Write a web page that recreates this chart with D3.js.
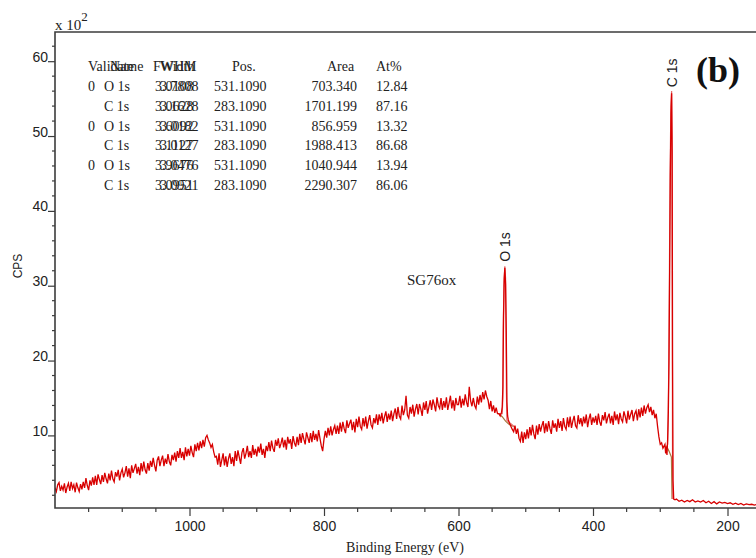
<!DOCTYPE html>
<html>
<head>
<meta charset="utf-8">
<script src="https://cdn.jsdelivr.net/npm/d3@7"></script>
<style>
body { margin: 0; background: #fff; }
svg { display: block; }
</style>
</head>
<body>
<div id="chart"></div>
<script>
// XPS survey of SG76ox, counts in units of 10^2 CPS

// 1200 eV down to 540 eV, every 2 eV
var highBE = [
	3.0, 2.5, 3.4, 3.7, 2.6, 3.2, 2.7, 3.6, 2.3, 3.1,
	3.6, 2.6, 3.8, 2.9, 3.4, 2.4, 3.7, 3.0, 2.5, 3.5,
	2.8, 3.8, 3.0, 4.3, 3.3, 2.7, 4.0, 3.3, 4.4, 3.4,
	4.6, 3.4, 4.8, 4.1, 3.5, 4.7, 3.8, 5.0, 4.2, 3.6,
	4.9, 4.0, 5.3, 4.2, 3.8, 5.1, 4.5, 5.4, 4.0, 5.0,
	5.5, 4.4, 5.0, 5.9, 4.5, 5.6, 4.3, 6.0, 5.0, 5.6,
	6.2, 4.9, 5.8, 4.7, 6.3, 5.2, 6.5, 5.4, 4.9, 6.3,
	5.3, 6.6, 5.8, 7.0, 6.0, 5.2, 6.7, 7.2, 5.9, 6.7,
	7.3, 5.9, 6.9, 6.2, 7.5, 6.5, 6.0, 7.4, 6.7, 7.7,
	6.5, 7.9, 7.0, 8.3, 7.0, 7.8, 6.7, 8.4, 7.2, 8.2,
	7.3, 8.6, 7.7, 7.1, 8.8, 7.9, 9.0, 8.0, 9.2, 8.3,
	9.4, 8.5, 9.7, 10.0, 9.4, 9.0, 8.4, 8.8, 7.8, 7.1,
	7.2, 6.1, 7.6, 5.8, 6.7, 7.6, 6.0, 7.2, 5.8, 6.9,
	7.6, 6.2, 7.1, 5.9, 7.9, 6.6, 8.0, 7.1, 6.2, 7.7,
	8.3, 6.9, 7.6, 8.6, 7.1, 7.9, 7.0, 8.7, 7.4, 8.2,
	7.2, 8.5, 7.7, 8.9, 7.4, 8.2, 7.0, 8.6, 7.9, 9.1,
	7.9, 9.3, 8.3, 7.8, 9.4, 8.6, 9.6, 8.3, 8.9, 9.7,
	8.4, 9.4, 8.1, 9.8, 8.9, 9.5, 8.2, 9.9, 9.0, 8.5,
	9.8, 8.7, 10.2, 9.0, 10.3, 9.5, 8.8, 10.4, 9.7, 9.0,
	10.3, 9.1, 10.6, 9.4, 10.2, 9.2, 10.7, 9.6, 8.6, 7.9,
	9.5, 10.6, 9.7, 11.0, 10.0, 11.2, 10.0, 10.8, 11.3, 10.2,
	11.3, 10.2, 11.7, 10.5, 11.8, 10.9, 10.3, 12.0, 11.0, 11.6,
	12.1, 10.7, 11.8, 10.4, 12.2, 11.1, 12.5, 11.2, 10.8, 12.3,
	11.2, 12.5, 10.9, 11.9, 12.7, 11.4, 11.0, 12.3, 11.6, 12.8,
	11.4, 12.8, 11.9, 13.0, 11.6, 12.5, 13.2, 11.8, 12.9, 12.1,
	13.3, 11.9, 12.9, 13.6, 12.2, 13.8, 12.6, 12.2, 14.0, 12.7,
	13.4, 15.3, 12.7, 12.3, 13.8, 12.9, 14.1, 12.5, 13.5, 14.2,
	12.8, 14.2, 13.5, 12.6, 14.4, 13.4, 14.6, 12.9, 13.8, 14.7,
	13.4, 14.8, 14.1, 13.2, 15.1, 14.0, 13.6, 15.0, 13.4, 14.6,
	13.7, 15.1, 13.4, 14.3, 15.3, 13.6, 14.7, 13.3, 15.0, 14.1,
	14.1, 15.3, 13.7, 14.9, 14.0, 15.5, 14.4, 13.8, 16.5, 14.6,
	13.9, 15.0, 14.0, 13.6, 15.2, 14.1, 15.4, 14.4, 15.8, 14.8,
	16.0, 15.2, 14.7, 13.5, 14.6, 13.2, 14.0, 13.0, 13.7, 12.9,
	12.9
];

// 516 eV down to 296 eV, every 2 eV
var midBE = [
	11.3, 10.2, 10.9, 9.6, 9.2, 10.5, 9.0, 10.4, 9.5, 10.8,
	9.6, 11.1, 10.0, 11.4, 10.2, 9.5, 11.3, 10.1, 11.5, 10.5,
	11.3, 11.9, 10.3, 11.6, 10.5, 11.9, 10.9, 10.2, 12.0, 11.0,
	11.6, 10.5, 12.2, 11.0, 11.9, 10.6, 12.3, 11.2, 10.8, 12.4,
	11.1, 12.5, 11.0, 11.9, 12.6, 11.3, 11.0, 12.7, 11.5, 12.3,
	11.2, 12.5, 11.6, 12.8, 11.1, 12.2, 12.9, 11.4, 12.4, 11.7,
	12.6, 11.4, 12.9, 11.8, 11.3, 12.7, 12.0, 13.1, 11.6, 12.4,
	12.9, 11.6, 12.6, 11.4, 13.2, 12.0, 12.8, 11.5, 13.0, 12.2,
	11.8, 13.2, 12.5, 11.6, 13.3, 12.1, 12.8, 13.4, 11.9, 12.9,
	13.3, 12.0, 13.5, 12.4, 13.7, 12.6, 14.0, 12.9, 13.7, 14.1,
	13.1, 13.8, 12.7, 13.4, 12.3, 12.9, 11.2, 9.8, 8.8, 9.0,
	8.3
];

// 276 eV down to 152 eV, every 4 eV
var lowBE = [
	1.5, 1.2, 1.35, 1.1, 1.3, 1.15, 1.4, 1.1, 1.25,
	1.1, 1.3, 1.0, 1.2, 0.9, 1.15, 0.85, 1.1, 0.95, 1.05,
	0.9, 1.0, 0.8, 0.95, 0.75, 0.9, 0.7, 0.85, 0.75, 0.8,
	0.7, 0.8, 0.65
];

// peak regions, [binding energy, cps]
var o1sPeak = [[538, 12.6], [536, 13.1], [535, 13.8], [534, 16.5], [533, 26.0], [532, 31.0], [531.1, 32.4],
	[530, 30.2], [529, 24.0], [528, 14.5], [527, 12.6], [526, 12.1], [524, 11.6], [522, 11.2], [520, 10.8], [518, 10.5]];
var c1sPeak = [[293, 8.8], [292, 7.6], [291, 8.5], [290, 7.4], [289, 9.5], [288, 13.0], [287, 20.0], [286, 32.0],
	[285, 45.0], [284, 53.0], [283.1, 55.7], [282.3, 48.0], [281.7, 20.0], [281, 4.0], [280, 1.5], [278, 1.4]];

// fitted envelopes and backgrounds
var o1sFit = [[540, 12.9], [535, 12.9], [534, 15.0], [533.5, 24.0], [532.5, 30.0], [531.1, 32.6], [530, 31.0],
	[529.5, 26.0], [528.8, 16.0], [528, 12.0], [516, 11.1]];
var c1sFit = [[291, 8.4], [289, 8.8], [288.5, 11.0], [287.5, 18.0], [286.5, 30.0], [285.5, 44.0], [284.2, 54.0],
	[283.1, 56.0], [282.6, 50.0], [282.2, 30.0], [281.8, 8.0], [281.5, 1.5]];
var o1sBg = [[540, 12.9], [535, 12.5], [530, 11.9], [525, 11.5], [516, 11.1]];
var c1sBg = [[291, 8.6], [287, 7.9], [283.4, 7.1], [283, 4.5], [282.5, 1.5]];

var xTicks = [1000, 800, 600, 400, 200];
var yTicks = [10, 20, 30, 40, 50, 60];

var tableHeader = ["Validate", "Name", "FWHM", "Width", "Pos.", "Area", "At%"];
var tableRows = [
	["0", "O 1s", "3.0108", "3.7808", "531.1090", "703.340", "12.84"],
	["", "C 1s", "3.0628", "3.1628", "283.1090", "1701.199", "87.16"],
	["0", "O 1s", "3.6092", "3.0182", "531.1090", "856.959", "13.32"],
	["", "C 1s", "3.1127", "3.0127", "283.1090", "1988.413", "86.68"],
	["0", "O 1s", "3.9676", "3.0476", "531.1090", "1040.944", "13.94"],
	["", "C 1s", "3.0951", "3.0921", "283.1090", "2290.307", "86.06"]
];

function segment(start, step, values){
	return values.map(function(v, i){ return [start - i*step, v]; });
}

function display(){
	var width = 756;
	var height = 558;
	var left = 55, top = 32, bottom = 508;

	var x = d3.scaleLinear().domain([1200, 0]).range([left, left + 1200*0.6725]);
	var y = d3.scaleLinear().domain([0.3, 63.9]).range([bottom, top]);

	var svg = d3.select("#chart")
				.append("svg")
				.attr("width", width)
				.attr("height", height);

	svg.append("clipPath").attr("id", "plotclip")
		.append("rect")
		.attr("x", left).attr("y", top)
		.attr("width", width - left).attr("height", bottom - top);

	var spectrum = segment(1200, 2, highBE)
		.concat(o1sPeak, segment(516, 2, midBE), c1sPeak, segment(276, 4, lowBE));

	var line = d3.line()
				 .x(function(d){ return x(d[0]); })
				 .y(function(d){ return y(d[1]); });

	var plot = svg.append("g").attr("clip-path", "url(#plotclip)");

	[o1sBg, c1sBg].forEach(function(bg){
		plot.append("path").attr("d", line(bg))
			.attr("fill", "none").attr("stroke", "#a8783e").attr("stroke-width", 1.2);
	});
	[o1sFit, c1sFit].forEach(function(fit){
		plot.append("path").attr("d", line(fit))
			.attr("fill", "none").attr("stroke", "#e56a6a").attr("stroke-width", 1.2);
	});
	plot.append("path").attr("d", line(spectrum))
		.attr("fill", "none").attr("stroke", "#d80000").attr("stroke-width", 1.3);

	// axes
	var axisColor = "#3c3c3c";
	var yAxis = d3.axisLeft(y)
				  .tickValues(yTicks)
				  .tickSize(7)
				  .tickPadding(0)
				  .tickFormat(d3.format("d"));
	var gy = svg.append("g").attr("transform", "translate(" + left + ",0)").call(yAxis);
	gy.select(".domain").remove();
	gy.selectAll(".tick line").attr("stroke", axisColor).attr("stroke-width", 1.2);
	gy.selectAll(".tick text")
	  .attr("x", -7).attr("dy", "0em")
	  .attr("fill", "#222")
	  .style("font-family", "Liberation Sans, Arial, sans-serif")
	  .style("font-size", "14px");

	var yMinor = d3.range(2, 64, 2).filter(function(v){ return v % 10 !== 0; });
	svg.append("g").selectAll("line").data(yMinor).enter().append("line")
		.attr("x1", left - 3).attr("x2", left)
		.attr("y1", function(d){ return y(d); }).attr("y2", function(d){ return y(d); })
		.attr("stroke", axisColor).attr("stroke-width", 1.2);

	var xAxis = d3.axisBottom(x)
				  .tickValues(xTicks)
				  .tickSize(8)
				  .tickPadding(5)
				  .tickFormat(d3.format("d"));
	var gx = svg.append("g").attr("transform", "translate(0," + bottom + ")").call(xAxis);
	gx.select(".domain").remove();
	gx.selectAll(".tick line").attr("stroke", axisColor).attr("stroke-width", 1.2);
	gx.selectAll(".tick text")
	  .attr("fill", "#222")
	  .style("font-family", "Liberation Sans, Arial, sans-serif")
	  .style("font-size", "14px");

	var xMinor = d3.range(150, 1200, 50).filter(function(v){ return v % 200 !== 0; });
	svg.append("g").selectAll("line").data(xMinor).enter().append("line")
		.attr("x1", function(d){ return x(d); }).attr("x2", function(d){ return x(d); })
		.attr("y1", bottom).attr("y2", bottom + 4)
		.attr("stroke", axisColor).attr("stroke-width", 1.2);

	// frame
	svg.append("path")
		.attr("d", "M" + width + "," + top + "H" + left + "V" + bottom + "H" + width)
		.attr("fill", "none").attr("stroke", axisColor).attr("stroke-width", 1.6);

	// labels
	var serif = "Liberation Serif, Times New Roman, serif";
	var sans = "Liberation Sans, Arial, sans-serif";

	var mult = svg.append("text").attr("x", left).attr("y", 30)
		.style("font-family", serif).style("font-size", "15px").attr("fill", "#222");
	mult.append("tspan").text("x 10");
	mult.append("tspan").attr("dy", -9).style("font-size", "13px").text("2");

	svg.append("text").attr("transform", "translate(22,266) rotate(-90)")
		.attr("text-anchor", "middle")
		.style("font-family", sans).style("font-size", "12px").attr("fill", "#222")
		.text("CPS");

	svg.append("text").attr("x", 405).attr("y", 552)
		.attr("text-anchor", "middle")
		.style("font-family", serif).style("font-size", "14px").attr("fill", "#222")
		.text("Binding Energy (eV)");

	svg.append("text").attr("x", 407).attr("y", 285)
		.style("font-family", serif).style("font-size", "15px").attr("fill", "#222")
		.text("SG76ox");

	[["O 1s", 531.1, 32.4], ["C 1s", 283.1, 55.7]].forEach(function(p){
		svg.append("text")
			.attr("transform", "translate(" + (x(p[1]) + 5) + "," + (y(p[2]) - 6) + ") rotate(-90)")
			.style("font-family", sans).style("font-size", "14px").attr("fill", "#222")
			.text(p[0]);
	});

	svg.append("text").attr("x", 718).attr("y", 82)
		.attr("text-anchor", "middle")
		.style("font-family", serif).style("font-size", "36px").style("font-weight", "bold")
		.attr("fill", "#111")
		.text("(b)");

	// quantification table (the overlapping columns are in the original too)
	var table = svg.append("g")
				   .style("font-family", serif).style("font-size", "14px").attr("fill", "#222");
	var headX = [88, 110, 153, 160, 232, 327, 376];
	tableHeader.forEach(function(h, i){
		table.append("text").attr("x", headX[i]).attr("y", 71).text(h);
	});
	var colX = [88, 104, 155, 160, 214, 357, 376];
	var anchors = ["start", "start", "start", "start", "start", "end", "start"];
	tableRows.forEach(function(row, r){
		row.forEach(function(cell, c){
			table.append("text")
				.attr("x", colX[c]).attr("y", 91 + r*19.8)
				.attr("text-anchor", anchors[c])
				.text(cell);
		});
	});
}

display();
</script>
</body>
</html>
